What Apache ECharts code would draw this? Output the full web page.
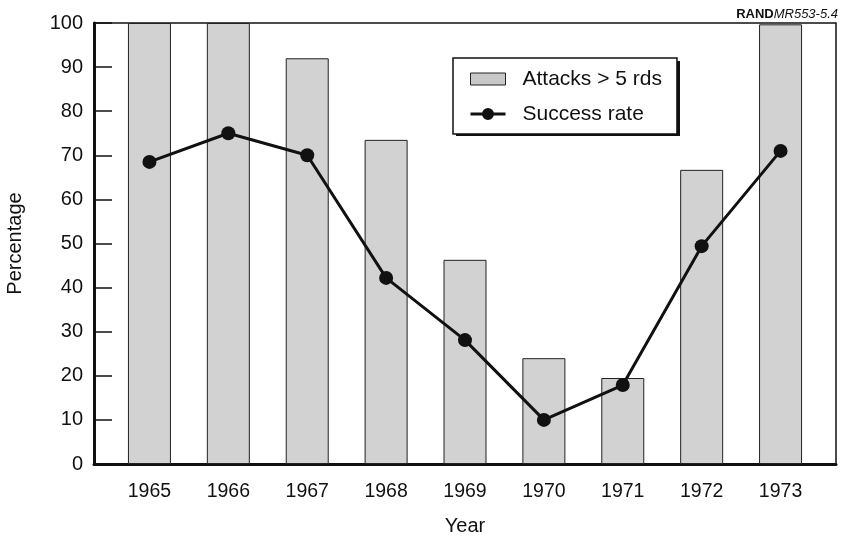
<!DOCTYPE html>
<html>
<head>
<meta charset="utf-8">
<script src="https://cdn.jsdelivr.net/npm/echarts@6/dist/echarts.min.js"></script>
<style>
  html, body { margin: 0; padding: 0; background: #fff; }
  #chart { width: 843px; height: 538px; }
</style>
</head>
<body>
<div id="chart"></div>
<script>
const years = ['1965', '1966', '1967', '1968', '1969', '1970', '1971', '1972', '1973'];
const attacksOver5 = [100, 100, 92, 73.5, 46.3, 24, 19.5, 66.7, 99.7];
const successRate = [68.5, 75, 70, 42.2, 28.1, 10, 17.9, 49.4, 71];
const yTicks = [0, 10, 20, 30, 40, 50, 60, 70, 80, 90, 100];

const FONT = '"Liberation Sans", Arial, Helvetica, sans-serif';
const chart = echarts.init(document.getElementById('chart'), null, { renderer: 'canvas' });

const lineIcon = 'path://M0,4.5L35,4.5L35,7.5L0,7.5Z M11.5,6A6,6,0,1,1,23.5,6A6,6,0,1,1,11.5,6Z';

chart.setOption({
  backgroundColor: '#ffffff',
  animation: false,
  textStyle: { fontFamily: FONT, color: '#111' },
  grid: [
    { left: 94, right: 7, top: 23, bottom: 74, containLabel: false, outerBoundsMode: 'none',
      show: true, borderColor: '#111', borderWidth: 1.5, backgroundColor: 'transparent' },
    { left: 110, right: 23, top: 23, bottom: 74, containLabel: false, outerBoundsMode: 'none' }
  ],
  xAxis: [
    {
      gridIndex: 0, type: 'value', min: 0, max: 1,
      axisLine: { show: true, lineStyle: { color: '#111', width: 3 } },
      axisTick: { show: false }, axisLabel: { show: false }, splitLine: { show: false }
    },
    {
      gridIndex: 1, type: 'category', data: years,
      axisLine: { show: false }, axisTick: { show: false },
      axisLabel: { fontSize: 19.5, color: '#111', margin: 18, fontFamily: FONT },
      name: 'Year', nameLocation: 'middle', nameGap: 52,
      nameTextStyle: { fontSize: 20, color: '#111', fontFamily: FONT }
    }
  ],
  yAxis: [
    {
      gridIndex: 0, type: 'value', min: 0, max: 100, interval: 10,
      axisLine: { show: true, lineStyle: { color: '#111', width: 3 } },
      axisTick: { show: true, inside: true, length: 18, lineStyle: { color: '#111', width: 1.5 } },
      axisLabel: {
        fontSize: 20, color: '#111', margin: 11, fontFamily: FONT,
        formatter: v => (yTicks.indexOf(v) >= 0 ? String(v) : '')
      },
      splitLine: { show: false },
      name: 'Percentage', nameLocation: 'middle', nameGap: 69, nameRotate: 90,
      nameTextStyle: { fontSize: 20, color: '#111', fontFamily: FONT }
    },
    {
      gridIndex: 1, type: 'value', min: 0, max: 100, show: false,
      splitLine: { show: false }
    }
  ],
  legend: {
    left: 453, top: 58, orient: 'vertical',
    backgroundColor: '#fff', borderColor: '#111', borderWidth: 1.5,
    padding: [9, 15, 8, 17],
    itemGap: 11, itemWidth: 35, itemHeight: 12,
    symbolKeepAspect: true,
    textStyle: { fontSize: 21, color: '#111', fontFamily: FONT, padding: [0, 0, 0, 12], lineHeight: 24 },
    data: [
      { name: 'Attacks > 5 rds', icon: 'rect', itemStyle: { color: '#c8c8c8', borderColor: '#222', borderWidth: 1 } },
      { name: 'Success rate', icon: lineIcon, itemStyle: { color: '#111', borderWidth: 0 } }
    ]
  },
  graphic: [
    {
      type: 'rect', left: 456, top: 61, z: -1,
      shape: { width: 224, height: 75 },
      style: { fill: '#111' }
    },
    {
      type: 'text', right: 5, top: 8,
      style: {
        text: '{b|RAND}{i|MR553-5.4}',
        rich: {
          b: { fontSize: 13, fontWeight: 'bold', fontFamily: FONT, fill: '#111' },
          i: { fontSize: 13, fontStyle: 'italic', fontFamily: FONT, fill: '#111' }
        }
      }
    }
  ],
  series: [
    {
      name: 'Attacks > 5 rds', type: 'bar', xAxisIndex: 1, yAxisIndex: 1,
      data: attacksOver5, barWidth: 43,
      itemStyle: { color: '#d2d2d2', borderColor: '#222', borderWidth: 1 }
    },
    {
      name: 'Success rate', type: 'line', xAxisIndex: 1, yAxisIndex: 1,
      data: successRate, symbol: 'circle', symbolSize: 14,
      lineStyle: { color: '#111', width: 3 },
      itemStyle: { color: '#111' }, z: 5
    }
  ]
});
</script>
</body>
</html>
